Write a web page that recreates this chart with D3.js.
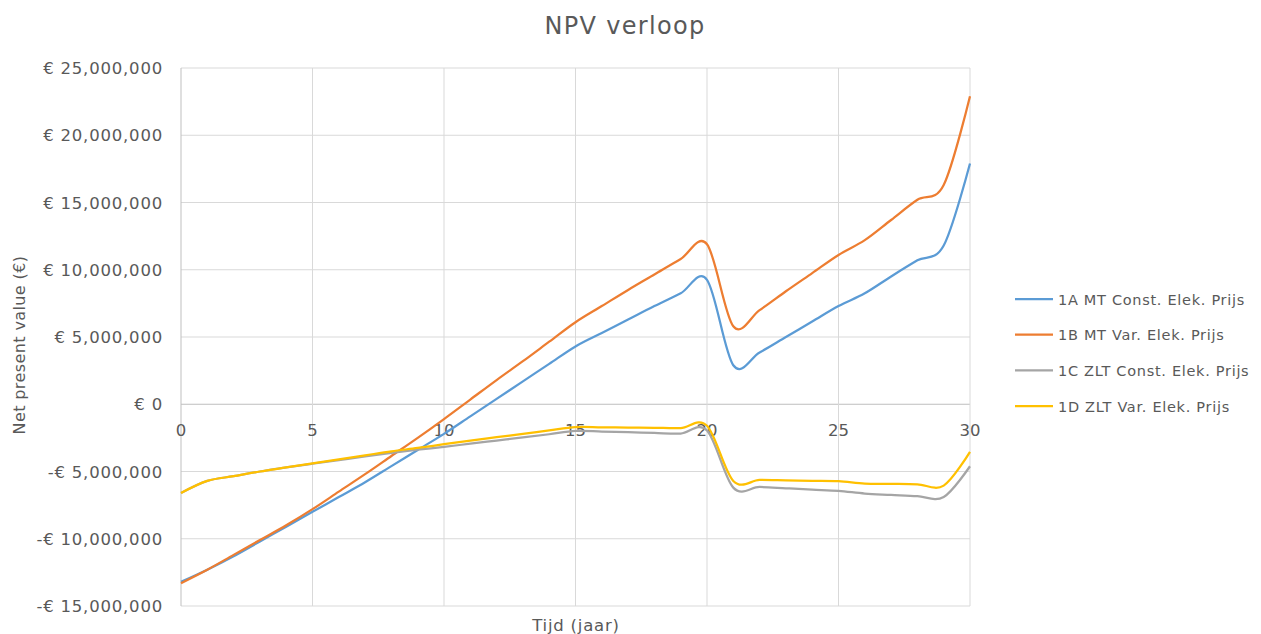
<!DOCTYPE html>
<html lang="nl">
<head>
    <meta charset="UTF-8">
    <title>NPV verloop</title>
    <script src="https://d3js.org/d3.v7.min.js"></script>
    <style>
        body { margin: 0; background: #fff; }
        text { font-family: "DejaVu Sans", Lato, sans-serif; fill: #595959; }
    </style>
</head>
<body>
<div id="chart"></div>
<script>
    // jaren 0..30
    const years = d3.range(0, 31);

    // NPV in miljoen euro, per jaar
    const npv1A = [-13.2, -12.3, -11.3, -10.2, -9.1, -8.0, -6.9, -5.8, -4.6, -3.4,
        -2.2, -0.9, 0.4, 1.7, 3.0, 4.3, 5.3, 6.3, 7.3, 8.25,
        9.25, 2.9, 3.85, 5.0, 6.15, 7.3, 8.25, 9.5, 10.7, 11.8, 17.9];
    const npv1B = [-13.3, -12.3, -11.2, -10.1, -9.0, -7.8, -6.5, -5.2, -3.85, -2.5,
        -1.1, 0.35, 1.8, 3.2, 4.65, 6.1, 7.3, 8.5, 9.65, 10.8,
        11.9, 5.8, 7.0, 8.4, 9.75, 11.1, 12.2, 13.7, 15.2, 16.3, 22.9];
    const npv1C = [-6.6, -5.7, -5.35, -5.0, -4.7, -4.42, -4.15, -3.88, -3.62, -3.38,
        -3.17, -2.93, -2.7, -2.47, -2.23, -1.98, -2.03, -2.08, -2.13, -2.18,
        -1.95, -6.2, -6.15, -6.25, -6.35, -6.44, -6.64, -6.74, -6.84, -6.9, -4.61];
    const npv1D = [-6.6, -5.7, -5.35, -5.0, -4.7, -4.4, -4.1, -3.8, -3.5, -3.25,
        -2.97, -2.7, -2.45, -2.2, -1.95, -1.7, -1.72, -1.73, -1.75, -1.77,
        -1.6, -5.7, -5.63, -5.66, -5.69, -5.72, -5.9, -5.92, -5.95, -6.05, -3.54];

    const seriesNames = ["1A MT Const. Elek. Prijs", "1B MT Var. Elek. Prijs",
        "1C ZLT Const. Elek. Prijs", "1D ZLT Var. Elek. Prijs"];
    const seriesColors = ["#5B9BD5", "#ED7D31", "#A5A5A5", "#FFC000"];
    const yTicks = [-15e6, -10e6, -5e6, 0, 5e6, 10e6, 15e6, 20e6, 25e6];
    const xTicks = [0, 5, 10, 15, 20, 25, 30];

    const width = 1261, height = 634;
    const plotLeft = 181, plotRight = 970, plotTop = 68, plotBottom = 606;

    const svg = d3.select("#chart").append("svg")
        .attr("width", width)
        .attr("height", height);

    const x = d3.scaleLinear().domain([0, 30]).range([plotLeft, plotRight]);
    const y = d3.scaleLinear().domain([-15e6, 25e6]).range([plotBottom, plotTop]);

    const fmt = d3.format(",");
    function euro(v) {
        return v < 0 ? "-€ " + fmt(-v) : "€ " + fmt(v);
    }

    // title
    svg.append("text")
        .attr("x", 625).attr("y", 34)
        .attr("text-anchor", "middle")
        .attr("font-size", 24)
        .attr("letter-spacing", 1.3)
        .text("NPV verloop");

    // grid
    svg.append("g").selectAll("line.h")
        .data(yTicks)
        .enter().append("line")
        .attr("x1", plotLeft).attr("x2", plotRight)
        .attr("y1", d => y(d)).attr("y2", d => y(d))
        .attr("stroke", d => d === 0 ? "#bfbfbf" : "#d9d9d9")
        .attr("stroke-width", 1);

    svg.append("g").selectAll("line.v")
        .data(xTicks)
        .enter().append("line")
        .attr("x1", d => x(d)).attr("x2", d => x(d))
        .attr("y1", plotTop).attr("y2", plotBottom)
        .attr("stroke", d => d === 0 ? "#bfbfbf" : "#d9d9d9")
        .attr("stroke-width", 1);

    // y tick labels
    svg.append("g").selectAll("text")
        .data(yTicks)
        .enter().append("text")
        .attr("x", 163)
        .attr("y", d => y(d) + 6)
        .attr("text-anchor", "end")
        .attr("font-size", 16.5)
        .attr("letter-spacing", 0.8)
        .text(euro);

    // x tick labels, on the zero line
    svg.append("g").selectAll("text")
        .data(xTicks)
        .enter().append("text")
        .attr("x", d => x(d))
        .attr("y", y(0) + 32)
        .attr("text-anchor", "middle")
        .attr("font-size", 16.5)
        .text(d => d);

    // axis titles
    svg.append("text")
        .attr("transform", "translate(25,345) rotate(-90)")
        .attr("text-anchor", "middle")
        .attr("font-size", 16)
        .attr("letter-spacing", 0.4)
        .text("Net present value (€)");

    svg.append("text")
        .attr("x", 576)
        .attr("y", 631)
        .attr("text-anchor", "middle")
        .attr("font-size", 16.5)
        .attr("letter-spacing", 0.8)
        .text("Tijd (jaar)");

    // lines
    const allSeries = [npv1A, npv1B, npv1C, npv1D];
    const line = d3.line()
        .x((d, i) => x(years[i]))
        .y(d => y(d * 1e6))
        .curve(d3.curveCardinal.tension(0));

    svg.append("g").selectAll("path")
        .data(allSeries)
        .enter().append("path")
        .attr("d", line)
        .attr("fill", "none")
        .attr("stroke", (d, i) => seriesColors[i])
        .attr("stroke-width", 2.25)
        .attr("stroke-linejoin", "round");

    // legend
    const legend = svg.append("g").selectAll("g")
        .data(seriesNames)
        .enter().append("g")
        .attr("transform", (d, i) => "translate(1015," + (299 + i * 35.7) + ")");

    legend.append("line")
        .attr("x1", 0).attr("x2", 38)
        .attr("stroke", (d, i) => seriesColors[i])
        .attr("stroke-width", 2.25);

    legend.append("text")
        .attr("x", 43)
        .attr("y", 5.5)
        .attr("font-size", 14.5)
        .attr("letter-spacing", 0.7)
        .text(d => d);
</script>
</body>
</html>
